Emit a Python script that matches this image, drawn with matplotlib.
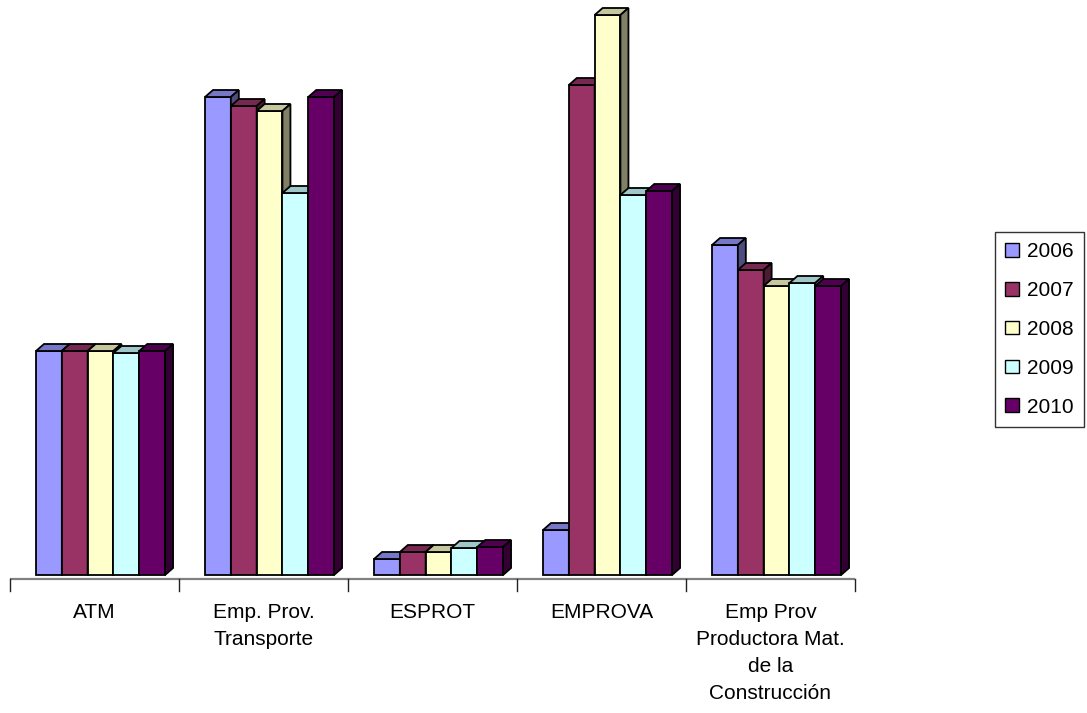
import matplotlib
matplotlib.use("Agg")
import matplotlib.pyplot as plt
from matplotlib.patches import Polygon, Patch
from matplotlib.colors import to_rgb

plt.rcParams['font.family'] = ['Liberation Sans', 'DejaVu Sans']

# Data
categories = ["ATM", "Emp. Prov.\nTransporte", "ESPROT", "EMPROVA",
              "Emp Prov\nProductora Mat.\nde la\nConstrucción"]
years = ["2006", "2007", "2008", "2009", "2010"]
v2006 = [224, 478, 16, 45, 330]
v2007 = [224, 469, 23, 490, 305]
v2008 = [224, 464, 23, 560, 289]
v2009 = [222, 382, 27, 380, 292]
v2010 = [224, 478, 28, 384, 289]
series = [v2006, v2007, v2008, v2009, v2010]
colors = ["#9999FF", "#993366", "#FFFFCC", "#CCFFFF", "#660066"]

W, H = 1087, 713
fig = plt.figure(figsize=(W / 100, H / 100), dpi=100)
# axes box in pixels: left 10, right 855, top 5, bottom 592
ax_left, ax_right, ax_top, ax_bottom = 10, 855, 5, 592
ax = fig.add_axes([ax_left / W, (H - ax_bottom) / H,
                   (ax_right - ax_left) / W, (ax_bottom - ax_top) / H])
n_cat = len(categories)
ax.set_xlim(0, n_cat)
below = 17  # pixels below the baseline inside the axes
ax.set_ylim(-below, (ax_bottom - ax_top) - below)
ax.axis("off")

# 3D depth offsets (pixels -> data units)
px_x = n_cat / (ax_right - ax_left)
px_y = 1.0
dx = 8 * px_x
dy = 7 * px_y

bar_w = 0.1527
group_off = 0.154
edge_lw = 1.3


def shade(c, f):
    r, g, b = to_rgb(c)
    return (r * f, g * f, b * f)


for j, (vals, col) in enumerate(zip(series, colors)):
    xs = [i + group_off + j * bar_w for i in range(n_cat)]
    bars = ax.bar(xs, vals, width=bar_w, align="edge", color=col,
                  edgecolor="black", linewidth=edge_lw)
    for i, (patch, x, h) in enumerate(zip(bars.patches, xs, vals)):
        z = 10 + i * 5 + j
        patch.set_zorder(z)
        top = Polygon([(x, h), (x + dx, h + dy), (x + bar_w + dx, h + dy),
                       (x + bar_w, h)], closed=True,
                      facecolor=shade(col, 0.78), edgecolor="black",
                      linewidth=edge_lw, zorder=z, joinstyle="miter")
        side = Polygon([(x + bar_w, 0), (x + bar_w + dx, dy),
                        (x + bar_w + dx, h + dy), (x + bar_w, h)], closed=True,
                       facecolor=shade(col, 0.5), edgecolor="black",
                       linewidth=edge_lw, zorder=z, joinstyle="miter")
        ax.add_patch(top)
        ax.add_patch(side)

# category axis with tick marks between groups
ax.plot([0, n_cat], [-3.5, -3.5], color="#808080", lw=1.6,
        solid_capstyle="butt", zorder=5, clip_on=False)
for k in range(n_cat + 1):
    ax.plot([k, k], [-3.5, -16], color="#222222", lw=1.0, zorder=5,
            clip_on=False)

for i, cat in enumerate(categories):
    ax.text(i + 0.5, -28, cat, ha="center", va="top", fontsize=15,
            linespacing=1.53, clip_on=False)

handles = [Patch(facecolor=c, edgecolor="black", linewidth=1.0) for c in colors]
leg = fig.legend(handles, years, loc="upper left",
                 bbox_to_anchor=(995 / W, 1 - 232 / H), borderaxespad=0,
                 fontsize=15, handlelength=0.63, handleheight=0.63,
                 handletextpad=0.4, borderpad=0.5, labelspacing=0.95,
                 fancybox=False, frameon=True)
leg.get_frame().set_edgecolor("black")
leg.get_frame().set_linewidth(1.0)

fig.savefig("out.png", dpi=100)
